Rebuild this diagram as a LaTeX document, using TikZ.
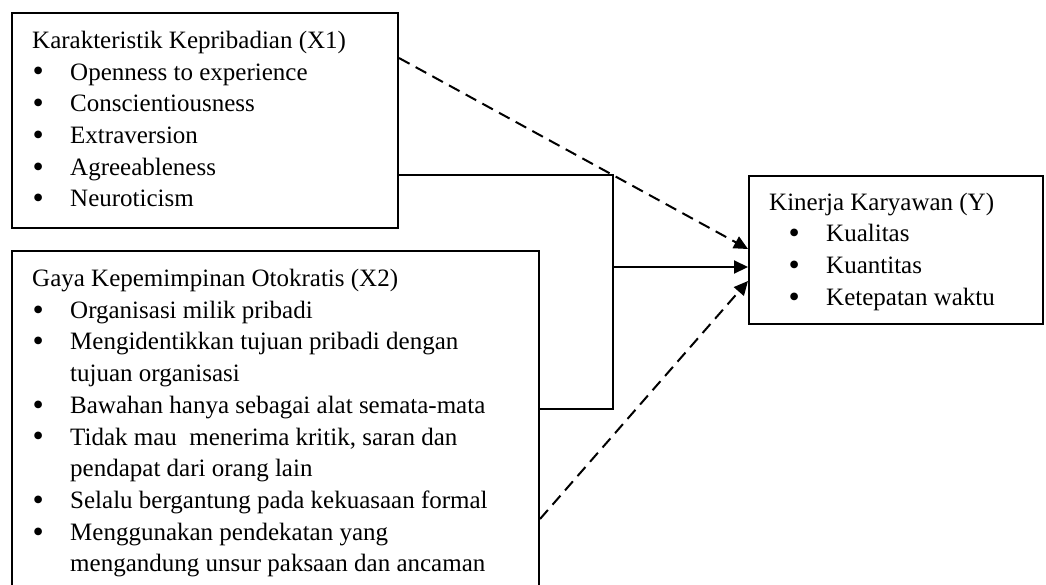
\documentclass[tikz,border=0pt]{standalone}
\usepackage{fontspec}
\setmainfont{Liberation Serif}
\usetikzlibrary{arrows.meta,calc}
\newcommand{\bul}[1]{\hspace{#1}\raisebox{-1.9pt}{\fontsize{32}{32}\selectfont\textbullet}}
\begin{document}
\begin{tikzpicture}[x=1pt,y=1pt,
  box/.style={draw,line width=2pt,inner sep=0pt,anchor=north west},
  txt/.style={inner sep=0pt,anchor=base west,font=\fontsize{25}{31.7}\selectfont},
  conn/.style={line width=2pt},
  arr/.style={line width=2pt,-{Triangle[length=14pt,width=13pt]}},
  dsh/.style={line width=2pt,dash pattern=on 12pt off 7pt,-{Triangle[length=14pt,width=13pt]}}
]
\useasboundingbox (0,0) rectangle (1046,-584);
\clip (0,0) rectangle (1046,-584);
% boxes
\node[box,minimum width=386pt,minimum height=215pt] (x1) at (11,-12) {};
\node[box,minimum width=527.5pt,minimum height=360pt] (x2) at (10.5,-250) {};
\node[box,minimum width=294pt,minimum height=148pt] (y) at (748,-175) {};
% texts
\node[txt] (x1t) at (32,-48.3) {\begin{tabular}[t]{@{}p{38pt}@{}l@{}}
\multicolumn{2}{@{}l@{}}{Karakteristik Kepribadian (X1)}\\
\bul{0.5pt} & Openness to experience\\
\bul{0.5pt} & Conscientiousness\\
\bul{0.5pt} & Extraversion\\
\bul{0.5pt} & Agreeableness\\
\bul{0.5pt} & Neuroticism
\end{tabular}};
\node[txt] (x2t) at (32,-286.5) {\begin{tabular}[t]{@{}p{38pt}@{}l@{}}
\multicolumn{2}{@{}l@{}}{Gaya Kepemimpinan Otokratis (X2)}\\
\bul{0.5pt} & Organisasi milik pribadi\\
\bul{0.5pt} & Mengidentikkan tujuan pribadi dengan\\
 & tujuan organisasi\\
\bul{0.5pt} & Bawahan hanya sebagai alat semata-mata\\
\bul{0.5pt} & Tidak mau\ \ menerima kritik, saran dan\\
 & pendapat dari orang lain\\
\bul{0.5pt} & Selalu bergantung pada kekuasaan formal\\
\bul{0.5pt} & Menggunakan pendekatan yang\\
 & mengandung unsur paksaan dan ancaman
\end{tabular}};
\node[txt] (yt) at (769,-210) {\begin{tabular}[t]{@{}p{57pt}@{}l@{}}
\multicolumn{2}{@{}l@{}}{Kinerja Karyawan (Y)}\\
\bul{19.5pt} & Kualitas\\
\bul{19.5pt} & Kuantitas\\
\bul{19.5pt} & Ketepatan waktu
\end{tabular}};
% connectors
\coordinate (j1) at (613,-175);
\coordinate (j2) at (613,-409);
\coordinate (jm) at (613,-267);
\draw[conn] (x1.north east |- j1) -- (j1) -- (j2) -- (x2.north east |- j2);
\draw[arr] (jm) -- (y.north west |- jm);
\draw[dsh] ($(x1.north east)+(0,-46)$) -- ($(y.north west)+(0,-74)$);
\draw[dsh] ($(x2.north east)+(0,-269)$) -- ($(y.north west)+(0,-106)$);
\end{tikzpicture}
\end{document}
